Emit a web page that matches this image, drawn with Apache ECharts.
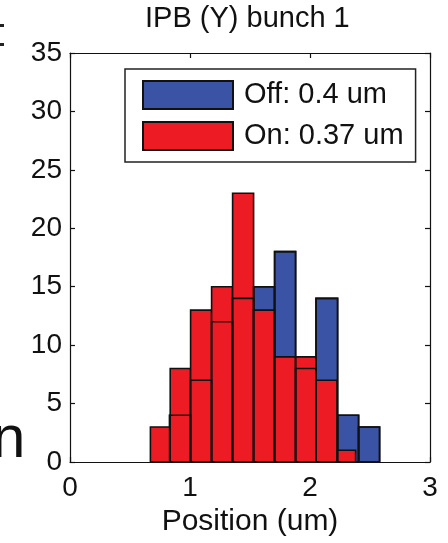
<!DOCTYPE html>
<html>
<head>
<meta charset="utf-8">
<script src="https://cdn.jsdelivr.net/npm/echarts@6/dist/echarts.min.js"></script>
<style>
  html, body { margin: 0; padding: 0; background: #fff; }
  #chart { width: 448px; height: 543px; }
</style>
</head>
<body>
<div id="chart"></div>
<script>
// histogram bins (bin edges in um, counts per bin)
const offEdges = [0.83, 1.005, 1.18, 1.355, 1.53, 1.705, 1.88, 2.05, 2.23, 2.405, 2.58]
const offCounts = [4, 7, 12, 14, 15, 18, 8, 14, 4, 3]
const onEdges = [0.67, 0.835, 1.005, 1.18, 1.355, 1.53, 1.705, 1.88, 2.05, 2.225, 2.38]
const onCounts = [3, 8, 13, 15, 23, 13, 9, 9, 7, 1]
const xTicks = [0, 1, 2, 3]
const yTicks = [0, 5, 10, 15, 20, 25, 30, 35]

const OFF_NAME = 'Off: 0.4 um'
const ON_NAME = 'On: 0.37 um'
const BLUE = '#3a53a4'
const RED = '#ed1c24'
const FONT = '"Liberation Sans", Arial, sans-serif'

const chart = echarts.init(document.getElementById('chart'))

function histSeries(name, edges, counts, fill, z) {
  return {
    name,
    type: 'custom',
    z,
    xAxisIndex: 0,
    yAxisIndex: 0,
    itemStyle: { color: fill === 'none' ? 'transparent' : fill, borderColor: '#111', borderWidth: 1 },
    encode: { x: [0, 1], y: 2 },
    data: counts.map((c, i) => [edges[i], edges[i + 1], c]),
    renderItem(params, api) {
      const p0 = api.coord([api.value(0), api.value(2)])
      const p1 = api.coord([api.value(1), 0])
      return {
        type: 'rect',
        shape: { x: p0[0], y: p0[1], width: p1[0] - p0[0], height: p1[1] - p0[1] },
        style: { fill: fill === 'none' ? null : fill, stroke: '#111', lineWidth: 1.6 },
      }
    },
  }
}

const axisCommon = {
  axisLine: { show: true, onZero: false, lineStyle: { color: '#111', width: 1.2 } },
  axisTick: { show: true, inside: true, length: 5, lineStyle: { color: '#111', width: 1.2 } },
  splitLine: { show: false },
}

chart.setOption({
  animation: false,
  textStyle: { fontFamily: FONT },
  grid: { left: 70, right: 18, top: 53, bottom: 81 },
  legend: {
    data: [OFF_NAME, ON_NAME],
    orient: 'vertical',
    left: 125,
    top: 69,
    padding: [11, 12, 11, 17],
    itemGap: 11,
    itemWidth: 90,
    itemHeight: 28,
    icon: 'rect',
    borderColor: '#222',
    borderWidth: 1.5,
    selectedMode: false,
    textStyle: { fontSize: 29, color: '#111', fontFamily: FONT, padding: [0, 0, 0, 6] },
  },
  graphic: [
    {
      type: 'text',
      left: 145,
      top: 4,
      style: { text: 'IPB (Y) bunch 1', font: '29px ' + FONT, fill: '#111' },
    },
    // fragments of the neighbouring panel cut off at the left edge
    {
      type: 'text',
      left: -8,
      top: 410,
      style: { text: 'n', font: '60px ' + FONT, fill: '#111' },
    },
    { type: 'rect', left: 0, top: 24, shape: { width: 4, height: 3 }, style: { fill: '#222' } },
    { type: 'rect', left: 0, top: 43, shape: { width: 4, height: 3 }, style: { fill: '#222' } },
  ],
  xAxis: [
    {
      type: 'value', min: xTicks[0], max: xTicks[xTicks.length - 1], interval: 1,
      position: 'bottom',
      ...axisCommon,
      axisLabel: { fontSize: 28, color: '#111', margin: 12 },
      name: 'Position (um)', nameLocation: 'middle', nameGap: 44,
      nameTextStyle: { fontSize: 30, color: '#111', fontFamily: FONT },
    },
    {
      type: 'value', min: xTicks[0], max: xTicks[xTicks.length - 1], interval: 1,
      position: 'top',
      ...axisCommon,
      axisLabel: { show: false },
    },
  ],
  yAxis: [
    {
      type: 'value', min: yTicks[0], max: yTicks[yTicks.length - 1], interval: 5,
      position: 'left',
      ...axisCommon,
      axisLabel: { fontSize: 28, color: '#111', margin: 8 },
    },
    {
      type: 'value', min: yTicks[0], max: yTicks[yTicks.length - 1], interval: 5,
      position: 'right',
      ...axisCommon,
      axisLabel: { show: false },
    },
  ],
  series: [
    histSeries(OFF_NAME, offEdges, offCounts, BLUE, 2),
    histSeries(ON_NAME, onEdges, onCounts, RED, 3),
    // the off-bin outlines show through the red bars in the original
    histSeries('off-outline', offEdges, offCounts, 'none', 4),
  ],
})
</script>
</body>
</html>
